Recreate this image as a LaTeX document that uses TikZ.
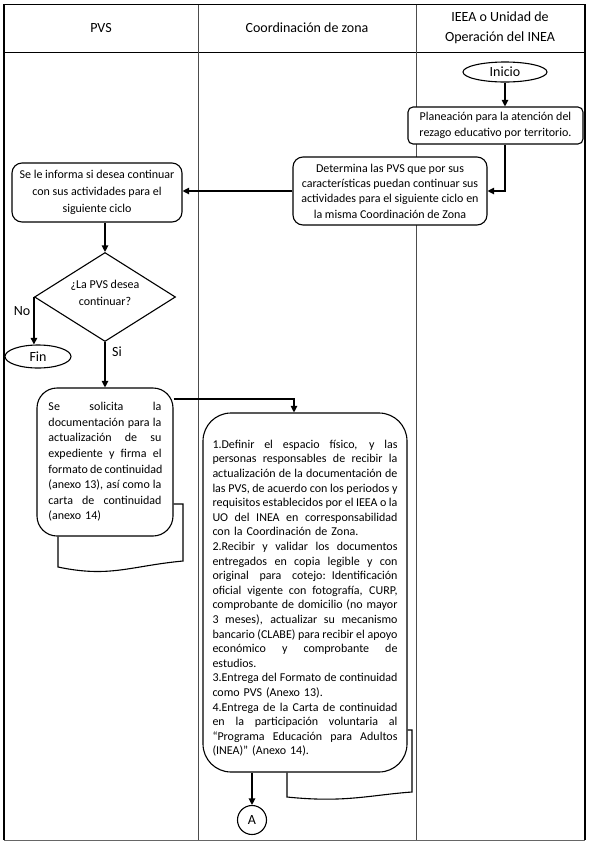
\documentclass[tikz,border=0pt]{standalone}
\usepackage{fontspec}
\setmainfont{Carlito}
\usetikzlibrary{shapes.geometric,arrows.meta,calc}
\newdimen\jw
\newcommand\jl[1]{\leavevmode\hbox to\jw{\spaceskip=0.226em plus 1em minus 0.04em\relax #1}}
\begin{document}
\begin{tikzpicture}[x=1pt,y=-1pt,
  box/.style={draw,line width=1.1pt,fill=white,align=center,inner sep=0pt,font=\fontsize{12}{15.3}\selectfont},
  arr/.style={line width=1.1pt,-{Triangle[length=6.5pt,width=6.5pt]}},
  lane/.style={line width=0.8pt,black!70},
  hdr/.style={font=\fontsize{14}{20}\selectfont,align=center},
  lbl/.style={font=\fontsize{14}{16}\selectfont},
  term/.style={ellipse,draw,line width=1.1pt,fill=white,inner sep=0pt,font=\fontsize{14}{16}\selectfont}]
\useasboundingbox (0,0) rectangle (590,847);
% table
\draw[line width=1.2pt] (4,840) -- (4,4.5) -- (585,4.5) -- (585,840);
\draw[line width=1pt,black!60] (4,840) -- (585,840);
\draw[line width=1pt] (4,52) -- (585,52);
\draw[lane] (198,4.5) -- (198,840);
\draw[lane] (416,4.5) -- (416,840);
\node[hdr] (h1) at (101,28) {PVS};
\node[hdr] (h2) at (307,28) {Coordinación de zona};
\node[hdr] (h3) at (500,28) {IEEA o Unidad de\\Operación del INEA};
% IEEA lane
\node[term,minimum width=84,minimum height=20] (ini) at (505,72) {Inicio};
\node[box,rounded corners=5pt,minimum width=175,minimum height=37] (plan) at (495.5,125.5) {Planeación para la atención del\\rezago educativo por territorio.};
% Coordinacion lane
\node[box,rounded corners=10pt,minimum width=194,minimum height=68] (det) at (390,191) {Determina las PVS que por sus\\características puedan continuar sus\\actividades para el siguiente ciclo en\\la misma Coordinación de Zona};
% PVS lane
\node[box,rounded corners=10pt,minimum width=170,minimum height=59,font=\fontsize{12}{17}\selectfont] (inf) at (97,192.5) {Se le informa si desea continuar\\con sus actividades para el\\siguiente ciclo};
\node[diamond,draw,line width=1.1pt,fill=white,minimum width=141,minimum height=89,inner sep=0pt,aspect=1.6] (dia) at (105,297) {};
\node[align=center,inner sep=0pt,font=\fontsize{12}{17}\selectfont] (diat) at (105,293) {¿La PVS desea\\continuar?};
\node[term,minimum width=66,minimum height=23] (fin) at (38,356.5) {Fin};
\node[lbl] (no) at (22,311) {No};
\node[lbl] (si) at (117,352) {Si};
\node[box,rounded corners=20pt,minimum width=136,minimum height=148,text width=113,align=left,font=\fontsize{12}{15.6}\selectfont] (doc) at (105,462) {\jw=113pt\relax\jl{Se solicita la}\\\jl{documentación para la}\\\jl{actualización de su}\\\jl{expediente y firma el}\\\jl{formato de continuidad}\\\jl{(anexo 13), así como la}\\\jl{carta de continuidad}\\(anexo 14)};
\draw[line width=1.1pt] (doc.east |- 0,504) -- (183,504) -- (183,561) .. controls (130,566) and (110,578) .. (58,567) -- (doc.south -| 58,0);
% big box
\node[box,rounded corners=28pt,minimum width=204,minimum height=359,text width=185,align=left,font=\fontsize{12}{14.6}\selectfont] (big) at (305,592.5) {\jw=185pt\relax\jl{\rule{0pt}{20pt}1.Definir el espacio físico, y las}\\\jl{personas responsables de recibir la}\\\jl{actualización de la documentación de}\\\jl{las PVS, de acuerdo con los periodos y}\\\jl{requisitos establecidos por el IEEA o la}\\\jl{UO del INEA en corresponsabilidad}\\con la Coordinación de Zona.\\\jl{2.Recibir y validar los documentos}\\\jl{entregados en copia legible y con}\\\jl{original para cotejo: Identificación}\\\jl{oficial vigente con fotografía, CURP,}\\\jl{comprobante de domicilio (no mayor}\\\jl{3 meses), actualizar su mecanismo}\\\jl{bancario (CLABE) para recibir el apoyo}\\\jl{económico y comprobante de}\\estudios.\\\jl{3.Entrega del Formato de continuidad}\\como PVS (Anexo 13).\\\jl{4.Entrega de la Carta de continuidad}\\\jl{en la participación voluntaria al}\\\jl{“Programa Educación para Adultos}\\(INEA)” (Anexo 14).};
\draw[line width=1.1pt] (big.east |- 0,730) -- (412,730) -- (412,792) .. controls (370,795) and (345,803) .. (287,797) -- (big.south -| 287,0);
\node[circle,draw,line width=1.1pt,minimum size=29,inner sep=0pt,font=\fontsize{14}{16}\selectfont] (A) at (252,820) {A};
% connectors
\draw[arr] (ini.south) -- (ini.south |- plan.north);
\draw[arr] (plan.south -| ini.south) |- (det.east);
\draw[arr] (det.west) -- (det.west -| inf.east);
\draw[arr] (dia.north |- inf.south) -- (dia.north);
\draw[arr] (dia.west) -- (dia.west |- fin.north);
\draw[arr] (dia.south) -- (dia.south |- doc.north);
\draw[arr] (doc.east |- 0,399) -| ($(big.north)+(-11,0)$);
\draw[arr] (big.south -| A.north) -- (A.north);
\end{tikzpicture}
\end{document}
